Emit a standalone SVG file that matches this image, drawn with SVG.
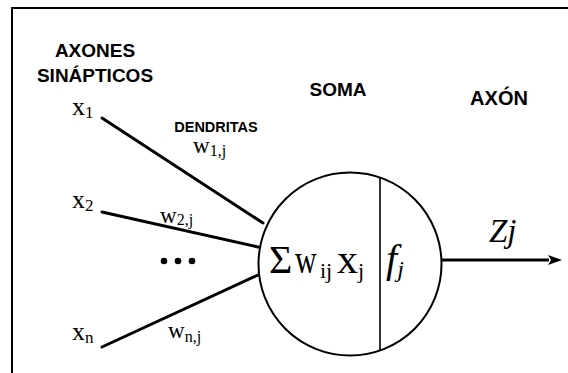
<svg xmlns="http://www.w3.org/2000/svg" width="568" height="373" viewBox="0 0 568 373">
<style>
.hd{font-family:"Liberation Sans",Arial,sans-serif;font-weight:bold;fill:#000}
.sr{font-family:"Liberation Serif","Times New Roman",serif;fill:#000}
.it{font-style:italic}
.ln{stroke:#000;stroke-width:3;fill:none;stroke-linecap:round}
</style>
<defs>
<marker id="ah" markerWidth="14" markerHeight="10" refX="1" refY="5" orient="auto" markerUnits="userSpaceOnUse">
<path d="M0,0 L14,5 L0,10 L3,5 Z" fill="#000"/>
</marker>
</defs>
<rect width="568" height="373" fill="#fff"/>
<path d="M12,373 V8 H568" fill="none" stroke="#000" stroke-width="2"/>
<g id="labels">
<text class="hd" x="95" y="57" font-size="19" text-anchor="middle">AXONES</text>
<text class="hd" x="95" y="82" font-size="19" text-anchor="middle">SINÁPTICOS</text>
<text class="hd" x="216" y="132" font-size="14.5" text-anchor="middle">DENDRITAS</text>
<text class="hd" x="338" y="96" font-size="19" text-anchor="middle">SOMA</text>
<text class="hd" x="499" y="105" font-size="20" text-anchor="middle">AXÓN</text>
</g>
<g id="x1"><text class="sr" x="72" y="115" font-size="26">x<tspan font-size="17" dy="3">1</tspan></text></g>
<g id="x2"><text class="sr" x="72" y="208" font-size="26">x<tspan font-size="17" dy="3">2</tspan></text></g>
<g id="xn"><text class="sr" x="72" y="340" font-size="26">x<tspan font-size="17" dy="3">n</tspan></text></g>
<g id="weights">
<text class="sr" x="193" y="153" font-size="23">w<tspan font-size="16" dy="3">1,j</tspan></text>
<text class="sr" x="160" y="223" font-size="23">w<tspan font-size="16" dy="2">2,j</tspan></text>
<text class="sr" x="168" y="338" font-size="23">w<tspan font-size="16" dy="4">n,j</tspan></text>
</g>
<g id="dots" fill="#000">
<circle cx="164" cy="261" r="3.3"/>
<circle cx="178" cy="261" r="3.3"/>
<circle cx="192" cy="261" r="3.3"/>
</g>
<g id="soma">
<circle cx="350" cy="264" r="91.5" fill="none" stroke="#000" stroke-width="2"/>
<line x1="380" y1="177" x2="380" y2="350" stroke="#000" stroke-width="1.6"/>
<text class="sr" x="269" y="273" font-size="40">Σ</text>
<text class="sr" transform="translate(295,273) scale(0.75,1)" font-size="40">w</text>
<text class="sr" x="320" y="278" font-size="22">ij</text>
<text class="sr" x="337" y="273" font-size="42">x<tspan font-size="22" dy="5">j</tspan></text>
<text class="sr it" x="386" y="272" font-size="40">f<tspan font-size="24" dy="5">j</tspan></text>
</g>
<g id="connectors">
<line class="ln" x1="102" y1="118" x2="263" y2="223"/>
<line class="ln" x1="102" y1="212" x2="258" y2="247"/>
<line class="ln" x1="102" y1="347" x2="258" y2="275"/>
<line x1="442" y1="260" x2="549" y2="260" stroke="#000" stroke-width="3" marker-end="url(#ah)"/>
</g>
<g id="zj"><text class="sr it" x="489" y="242" font-size="33">Zj</text></g>
</svg>
